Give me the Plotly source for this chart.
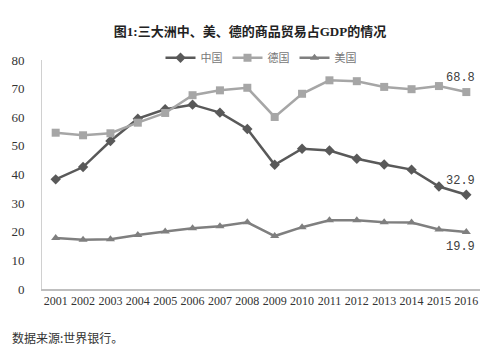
import plotly.graph_objects as go

years = [str(y) for y in range(2001, 2017)]
china = [38.3, 42.6, 51.7, 59.5, 62.8, 64.4, 61.6, 55.9, 43.4, 49.0, 48.4, 45.5, 43.5, 41.7, 35.8, 32.9]
germany = [54.6, 53.7, 54.4, 58.1, 61.5, 67.7, 69.4, 70.3, 60.1, 68.2, 72.9, 72.6, 70.6, 69.8, 70.9, 68.8]
usa = [17.8, 17.2, 17.4, 18.9, 20.1, 21.2, 21.9, 23.3, 18.5, 21.6, 24.0, 24.0, 23.3, 23.2, 20.8, 19.9]
names = ["中国", "德国", "美国"]
colors = ["#595959", "#A6A6A6", "#7F7F7F"]
symbols = ["diamond", "square", "triangle-up"]
label_dy = [14, 14, -15]

serif = "Liberation Serif"
fig = go.Figure()
for name, vals, col, sym, dy in zip(names, [china, germany, usa], colors, symbols, label_dy):
    fig.add_trace(go.Scatter(
        x=years, y=vals, name=name, mode="lines+markers",
        line=dict(color=col, width=2.5),
        marker=dict(symbol=sym, size=8, color=col),
    ))
    fig.add_annotation(x=len(years) - 1, y=vals[-1], text=f"{vals[-1]:.1f}",
                       showarrow=False, xshift=-6, yshift=dy,
                       font=dict(family="Liberation Mono", size=12, color="#404040"))

fig.update_layout(
    width=500, height=352,
    margin=dict(l=42, r=20, t=60, b=63),
    paper_bgcolor="white", plot_bgcolor="white",
    title=dict(text="<b>图1:三大洲中、美、德的商品贸易占GDP的情况</b>",
               x=0.5, xanchor="center", y=0.91, yanchor="middle",
               font=dict(family="Liberation Serif, Noto Sans CJK SC", size=13, color="#222")),
    legend=dict(orientation="h", x=0.5, xanchor="center", y=1.01, yanchor="middle",
                font=dict(family="Noto Sans CJK SC", size=11, color="#777"),
                itemwidth=30, bgcolor="rgba(0,0,0,0)"),
    showlegend=True,
)
fig.update_xaxes(type="category", range=[-0.5, 15.5], showgrid=False,
                 showline=True, linecolor="#BFBFBF", linewidth=1.5, ticks="",
                 tickfont=dict(family=serif, size=12, color="#333"))
fig.update_yaxes(range=[0, 80], dtick=10, showgrid=False, zeroline=False,
                 showline=True, linecolor="#D0D0D0", linewidth=1, ticks="",
                 ticklabelstandoff=14,
                 tickfont=dict(family=serif, size=13, color="#333"))
fig.add_annotation(text="数据来源:世界银行。", xref="paper", yref="paper",
                   x=-0.072, y=-0.21, xanchor="left", yanchor="middle", showarrow=False,
                   font=dict(family="Noto Sans CJK SC", size=12, color="#333"))
fig.write_html("out.html")
